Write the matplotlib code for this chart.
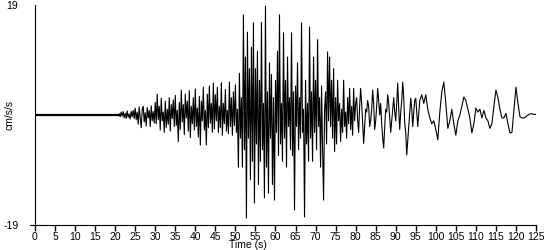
import matplotlib
matplotlib.use('Agg')
import matplotlib.pyplot as plt
import numpy as np

plt.rcParams['font.family'] = ['Liberation Sans', 'DejaVu Sans']

# quiet part before the first arrival
t_quiet = [0.0, 21.0]
a_quiet = [0.0, 0.0]

# strong part, one reading every 0.25 s from 21 s (cm/s/s)
fast_start = 21.0
fast_step = 0.25
a_21_25 = [0.2, -0.3, 0.5, -0.2, 0.6, -0.5, 0.3, -0.6, 0.7, -0.4, 0.2, -0.7, 0.6, -0.3, 0.8, -0.6]
a_25_30 = [1.2, -0.8, 0.5, -1.6, 1.4, -0.6, -2.2, 1.0, 1.5, -1.2, 0.4, -1.9, 1.3, -0.5, 0.8, -2.0, 1.6, -1.0, 0.6, -1.4]
a_30_35 = [2.2, -1.5, 3.6, -0.8, 1.5, -2.6, 2.9, -1.0, 0.5, -3.0, 2.4, -2.2, 1.0, -1.6, 3.0, -2.8, 1.8, -0.6, 2.6, -2.0]
a_35_40 = [3.4, -1.8, 0.8, -4.6, 2.2, -2.5, 4.3, -1.2, 1.8, -3.4, 3.6, -0.5, 2.4, -2.8, 4.2, -3.9, 1.5, -1.5, 3.0, -2.6]
a_40_45 = [4.5, -2.0, 1.2, -3.8, 3.2, -5.2, 2.4, -1.0, 4.8, -2.6, 0.8, -5.2, 3.6, -2.2, 5.0, -1.4, 2.0, -3.0, 5.5, -2.4]
a_45_50 = [3.5, -1.0, 4.8, -3.0, 1.5, -2.2, 5.6, -3.5, 2.0, -1.5, 4.4, -2.8, 0.8, -3.2, 5.7, -2.0, 3.0, -3.5, 4.0, -1.8]
a_50_55 = [5.2, -3.0, 1.0, -9.0, 7.2, -4.0, 3.0, -9.0, 17.3, -6.0, 10.0, -17.8, 14.3, -4.0, 8.0, -11.2, 11.7, -8.0, 15.9, -15.2]
a_55_60 = [8.0, -5.0, 11.0, -12.0, 6.0, -8.0, 16.0, -6.0, 2.0, -14.3, 18.8, -9.0, 4.0, -13.5, 9.0, -4.0, 7.0, -12.0, 3.0, -14.7]
a_60_65 = [6.0, -3.0, 11.0, -7.0, 17.3, -5.0, 2.0, -8.0, 14.2, -4.0, 6.0, -9.0, 10.0, -2.0, 3.0, -6.0, 14.2, -7.0, 4.0, -16.4]
a_65_70 = [5.0, -2.0, 9.0, -6.0, 3.0, -4.0, 15.9, -3.0, 1.0, -17.6, 6.0, -5.0, 2.0, -8.0, 15.2, -4.0, 4.0, -8.0, 10.0, -3.0]
a_70_75 = [6.0, -6.0, 13.0, -2.0, 3.0, -9.0, 5.0, -6.0, -14.7, 1.0, 4.0, -5.0, 10.9, -1.0, 10.0, -2.0, 6.0, -4.0, 8.0, -6.3]
a_75_80 = [3.0, -5.0, 6.0, -1.0, 2.0, -4.6, 1.0, -3.0, 6.0, -2.0, 0.5, -4.0, 3.0, -1.5, 4.6, -2.5, 1.5, -3.5, 4.6, -1.0]
a_80_85 = [2.0, 3.0, -1.0, -3.0, 1.5, 4.6, 2.0, -1.5, -4.9, -2.0, 1.0, 0.5, 2.5, 1.5, -2.0, -1.0, 1.0, 4.3, 2.0, -2.5]
a_85_90 = [-1.0, 1.5, 4.6, 2.5, 0.0, 2.0, -1.5, -4.0, -5.7, -2.0, 1.0, 0.5, 3.5, 2.0, -0.5, -3.0, -1.0, 1.0, 3.0, 0.5]
a_90_95 = [-1.0, 2.0, 5.5, 1.0, -2.5, 0.5, 2.5, 5.7, 3.0, -1.5, -3.0, -6.9, -4.5, -2.0, 0.5, 2.9, 1.0, -2.0, 0.5, 2.5]

# coda, one reading every 0.5 s from 95 s
slow_start = 95.0
slow_step = 0.5
a_95_100 = [2.9, -2.0, 2.5, 3.5, 2.0, 3.5, 1.0, -0.5, -1.5, -1.0]
a_100_105 = [-2.5, -4.3, 0.5, 4.0, 5.7, 2.0, -2.3, -1.0, 1.0, -1.5]
a_105_110 = [-3.5, -1.0, 0.0, 1.5, 3.1, 2.5, 1.0, -0.5, -3.1, -1.5]
a_110_115 = [1.2, 0.5, 1.0, -0.5, 0.8, -0.5, -1.0, -2.3, -1.5, 1.5]
a_115_120 = [4.3, 3.0, 1.0, -0.5, -0.5, 0.3, -1.5, -3.1, -3.0, 1.0]
a_120_125 = [4.8, 2.0, -0.3, -0.5, -0.5, -0.3, 0.0, 0.2, 0.2, 0.1, 0.1]

x_ticks = list(range(0, 130, 5))
y_ticks = [-19, 19]

a_fast = (a_21_25 + a_25_30 + a_30_35 + a_35_40 + a_40_45 + a_45_50 + a_50_55
          + a_55_60 + a_60_65 + a_65_70 + a_70_75 + a_75_80 + a_80_85
          + a_85_90 + a_90_95)
a_slow = a_95_100 + a_100_105 + a_105_110 + a_110_115 + a_115_120 + a_120_125
t_fast = fast_start + fast_step * np.arange(len(a_fast))
t_slow = slow_start + slow_step * np.arange(len(a_slow))

t = np.concatenate([t_fast, t_slow])
acc = np.concatenate([a_fast, a_slow])

fig = plt.figure(figsize=(5.5, 2.5), dpi=100)
ax = fig.add_axes([35 / 550, 1 - 225 / 250, 501 / 550, 220 / 250])

ax.plot(t_quiet, a_quiet, color='black', linewidth=1.6)
ax.plot(t, acc, color='black', linewidth=0.8)

ax.set_xlim(0, 125)
ax.set_ylim(-19, 19)
ax.spines['top'].set_visible(False)
ax.spines['right'].set_visible(False)
ax.spines['bottom'].set_bounds(-1.25, 125)

ax.set_xticks(x_ticks)
ax.set_xticklabels([str(v) for v in x_ticks], fontsize=7.5)
ax.tick_params(axis='x', direction='out', length=4, width=1, pad=1)
ax.set_yticks(y_ticks)
ax.set_yticklabels([str(v) for v in y_ticks], fontsize=7.5)
ax.tick_params(axis='y', length=0, pad=12)

ax.set_xlabel('Time (s)', fontsize=7.5)
ax.xaxis.set_label_coords(213 / 501, -0.07)
ax.set_ylabel('cm/s/s', fontsize=7.5)
ax.yaxis.set_label_coords(-0.04, 0.5)

fig.savefig('out.png', dpi=100)
